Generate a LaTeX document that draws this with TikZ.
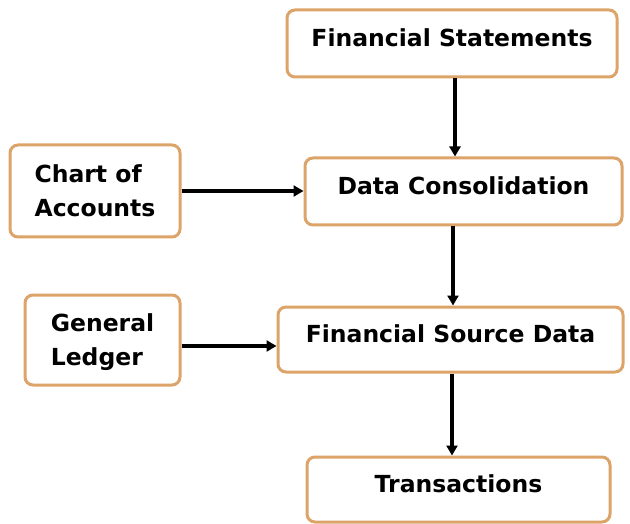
\documentclass[tikz,border=0pt]{standalone}
\usepackage{fontspec}
\setmainfont{DejaVu Sans}
\usetikzlibrary{arrows.meta,calc}
\definecolor{boxline}{HTML}{DDA46A}
\begin{document}
\begin{tikzpicture}[x=1pt,y=-1pt,
  box/.style={draw=boxline, line width=3pt, rounded corners=8pt, fill=white,
    inner sep=0pt, font=\fontsize{23.5}{34}\selectfont\bfseries},
  onebox/.style={box, text height=18pt, text depth=12pt},
  twobox/.style={box, align=left, text depth=0pt},
  arr/.style={line width=3.2pt, -{Triangle[length=10pt,width=11pt]}}]
\useasboundingbox[fill=white] (0,0) rectangle (630,524);
\node[onebox, minimum width=330pt, minimum height=67pt] (fs) at (452,43.5) {Financial Statements};
\node[onebox, minimum width=317pt, minimum height=67pt] (dc) at (463.5,191.5) {Data Consolidation};
\node[onebox, minimum width=345pt, minimum height=65pt] (fsd) at (450.5,339.5) {Financial Source Data};
\node[onebox, minimum width=303pt, minimum height=65pt] (tr) at (458.5,489.5) {Transactions};
\node[twobox, minimum width=170pt, minimum height=92pt] (coa) at (95,191) {Chart of\\Accounts};
\node[twobox, minimum width=155pt, minimum height=90pt] (gl) at (102.5,340) {General\\Ledger};
\draw[arr] ([xshift=3pt]fs.south) -- ([xshift=3pt]fs.south |- dc.north);
\draw[arr] ([xshift=-10.5pt]dc.south) -- ([xshift=-10.5pt]dc.south |- fsd.north);
\draw[arr] ([xshift=1.5pt]fsd.south) -- ([xshift=1.5pt]fsd.south |- tr.north);
\draw[arr] (coa.east) -- (coa.east -| dc.west);
\draw[arr] ([yshift=-6pt]gl.east) -- ([yshift=-6pt]gl.east -| fsd.west);
\end{tikzpicture}
\end{document}
